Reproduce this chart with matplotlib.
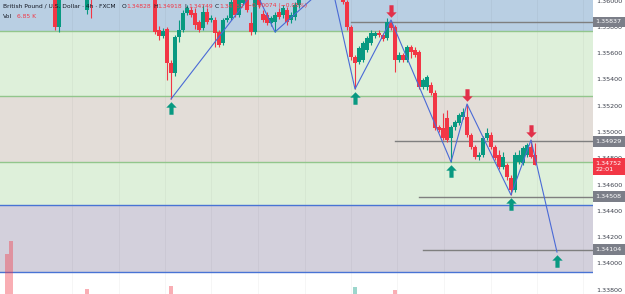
import matplotlib
matplotlib.use("Agg")
import matplotlib.pyplot as plt
import matplotlib.transforms as mtransforms
from matplotlib.path import Path
import numpy as np

# ---------------- data ----------------
bar_index = [13, 14, 21, 22,
             38, 39, 40, 41, 42, 43, 44, 45, 46, 47, 48, 49, 50, 51, 52, 53, 54, 55, 56,
             57, 58, 59, 60, 61, 62, 63, 64, 65, 66, 67, 68, 69, 70, 71, 72, 73, 74,
             85, 86, 87, 88, 89, 90, 91, 92, 93, 94, 95, 96, 97, 98, 99, 100, 101, 102,
             103, 104, 105, 106, 107, 108, 109, 110, 111, 112, 113, 114, 115, 116, 117,
             118, 119, 120, 121, 122, 123, 124, 125, 126, 127, 128, 129, 130, 131, 132, 133]
open_ = [1.36156, 1.35799, 1.35928, 1.36095,
         1.36232, 1.35776, 1.35730, 1.35783, 1.35525, 1.35449, 1.35722, 1.35776, 1.35905, 1.35928,
         1.35905, 1.35837, 1.35791, 1.35913, 1.35852, 1.35852, 1.35761, 1.35677, 1.35852,
         1.35867, 1.36027, 1.35890, 1.35981, 1.36065, 1.35829, 1.35761, 1.36042, 1.35897, 1.35890,
         1.35829, 1.35837, 1.35913, 1.35890, 1.35928, 1.35852, 1.35875, 1.35966,
         1.36194, 1.35989, 1.35799, 1.35570, 1.35532, 1.35548, 1.35624, 1.35677, 1.35730, 1.35753,
         1.35738, 1.35715, 1.35829, 1.35799, 1.35548, 1.35586, 1.35548, 1.35646,
         1.35624, 1.35608, 1.35342, 1.35342, 1.35357, 1.35297, 1.35038, 1.35030, 1.35106, 1.34954,
         1.35038, 1.35068, 1.35114, 1.35114, 1.34977,
         1.34886, 1.34810, 1.34825, 1.34954, 1.34977, 1.34886, 1.34825, 1.34734, 1.34749, 1.34650,
         1.34559, 1.34772, 1.34764, 1.34825, 1.34886, 1.34828]
high = [1.36194, 1.36118, 1.36156, 1.36118,
        1.36270, 1.35806, 1.35791, 1.35799, 1.35548, 1.35738, 1.35852, 1.35928, 1.35966, 1.35951,
        1.35943, 1.35852, 1.35966, 1.35943, 1.35890, 1.35875, 1.35776, 1.35867, 1.35890,
        1.36027, 1.36042, 1.36042, 1.36095, 1.36095, 1.35913, 1.36080, 1.36065, 1.35928, 1.35913,
        1.35882, 1.35913, 1.35943, 1.35966, 1.35951, 1.35913, 1.35989, 1.36118,
        1.36232, 1.36004, 1.35814, 1.35586, 1.35654, 1.35692, 1.35730, 1.35776, 1.35768, 1.35776,
        1.35753, 1.35867, 1.35852, 1.35814, 1.35608, 1.35601, 1.35662, 1.35662,
        1.35646, 1.35624, 1.35411, 1.35433, 1.35380, 1.35319, 1.35053, 1.35144, 1.35167, 1.35053,
        1.35091, 1.35144, 1.35183, 1.35213, 1.34992,
        1.34901, 1.34848, 1.34970, 1.35030, 1.35000, 1.34901, 1.34863, 1.34848, 1.34764, 1.34673,
        1.34848, 1.34863, 1.34894, 1.34916, 1.34939, 1.34918]
low = [1.35776, 1.35761, 1.35897, 1.35867,
       1.35745, 1.35700, 1.35715, 1.35395, 1.35251, 1.35426, 1.35684, 1.35761, 1.35890, 1.35875,
       1.35783, 1.35761, 1.35776, 1.35821, 1.35837, 1.35646, 1.35646, 1.35662, 1.35837,
       1.35852, 1.35875, 1.35875, 1.35966, 1.35913, 1.35738, 1.35745, 1.35943, 1.35837, 1.35814,
       1.35806, 1.35761, 1.35859, 1.35867, 1.35814, 1.35829, 1.35852, 1.35943,
       1.35973, 1.35776, 1.35548, 1.35327, 1.35517, 1.35532, 1.35608, 1.35662, 1.35715, 1.35722,
       1.35692, 1.35700, 1.35776, 1.35456, 1.35532, 1.35532, 1.35532, 1.35563,
       1.35570, 1.35327, 1.35327, 1.35319, 1.35281, 1.35015, 1.35000, 1.34939, 1.34924, 1.34772,
       1.35015, 1.35053, 1.35099, 1.34962, 1.34871,
       1.34795, 1.34787, 1.34810, 1.34939, 1.34871, 1.34787, 1.34719, 1.34719, 1.34635, 1.34521,
       1.34544, 1.34757, 1.34749, 1.34810, 1.34802, 1.34749]
close = [1.35799, 1.36080, 1.36118, 1.36042,
         1.35761, 1.35730, 1.35768, 1.35525, 1.35449, 1.35722, 1.35776, 1.35905, 1.35943, 1.35890,
         1.35814, 1.35776, 1.35913, 1.35837, 1.35867, 1.35753, 1.35662, 1.35852, 1.35867,
         1.35989, 1.35890, 1.36004, 1.36065, 1.35928, 1.35761, 1.36042, 1.35966, 1.35852, 1.35829,
         1.35867, 1.35890, 1.35875, 1.35943, 1.35837, 1.35890, 1.35966, 1.36080,
         1.35989, 1.35799, 1.35570, 1.35525, 1.35639, 1.35677, 1.35715, 1.35753, 1.35753, 1.35738,
         1.35707, 1.35837, 1.35791, 1.35548, 1.35586, 1.35548, 1.35646, 1.35608,
         1.35586, 1.35342, 1.35395, 1.35418, 1.35297, 1.35030, 1.35015, 1.34954, 1.34939, 1.35038,
         1.35076, 1.35129, 1.35152, 1.34977, 1.34886,
         1.34810, 1.34825, 1.34954, 1.34992, 1.34886, 1.34802, 1.34734, 1.34810, 1.34658, 1.34559,
         1.34825, 1.34825, 1.34878, 1.34901, 1.34810, 1.34752]

vol_index = [1, 2, 21, 42, 88, 98]
vol_k = [177.0, 234.0, 22.0, 35.0, 31.0, 18.0]
vol_up = [False, False, False, False, True, False]

zigzag_index = [42, 63, 68, 82, 88, 97, 112, 116, 127, 132, 138.5]
zigzag_price = [1.35251, 1.36080, 1.35761, 1.36141, 1.35327, 1.35852, 1.34772, 1.35213,
                1.34521, 1.34939, 1.34087]
up_arrow_index = [42, 88, 112, 127, 138.5]
up_arrow_price = [1.35251, 1.35327, 1.34772, 1.34521, 1.34087]
down_arrow_index = [97, 116, 132]
down_arrow_price = [1.35852, 1.35213, 1.34939]

zone_edges = [1.33935, 1.34445, 1.34772, 1.35274, 1.35768]
level_price = [1.35837, 1.34929, 1.34508, 1.34104]
level_start = [87, 98, 104, 105]
level_label = ["1.35837", "1.34929", "1.34508", "1.34104"]
tick_prices = [1.338, 1.340, 1.342, 1.344, 1.346, 1.348, 1.350, 1.352, 1.354, 1.356, 1.358, 1.360]
time_grid = [17.25, 28.9, 40.5, 52.1, 63.75, 75.4, 87.0, 98.6, 110.25, 121.9, 133.5, 145.1]
last_price_label = "1.34752"
countdown = "22:01"

# ---------------- figure ----------------
W, H, DPI = 625, 294, 100
fig = plt.figure(figsize=(W / DPI, H / DPI), dpi=DPI, facecolor="white")
ax = fig.add_axes([0, 0, 593 / W, 1])
ax.set_xlim(-0.75, 147.5)
ax.set_ylim(1.33768, 1.36004)
ax.set_facecolor("white")

UP, DOWN = "#089981", "#f23645"

# zones
zone_colors = ["#d3d0dc", "#def0da", "#e3ddd8", "#def0da", "#b9cfe3"]
bounds = zone_edges + [1.37]
for lo, hi, c in zip(bounds[:-1], bounds[1:], zone_colors):
    ax.axhspan(lo, hi, color=c, lw=0, zorder=0)

# faint time grid
for g in time_grid:
    ax.axvline(g, color="#000000", alpha=0.035, lw=0.8, zorder=0.5)

line_cols = ["#4873d4", "#4873d4", "#92c68c", "#92c68c", "#92c68c"]
for p, c in zip(zone_edges, line_cols):
    ax.axhline(p, color=c, lw=1.0, zorder=1)

# support/resistance levels
for p, s in zip(level_price, level_start):
    ax.plot([s, 147.5], [p, p], color="#7f7f7f", lw=1.0, zorder=1)

# volume
ax2 = ax.twinx()
ax2.set_ylim(0, 1300)
ax2.bar(vol_index, vol_k, width=0.85,
        color=[UP if u else DOWN for u in vol_up], alpha=0.4, lw=0, zorder=1)
ax2.set_axis_off()

# candles
o = np.array(open_); c = np.array(close); hi_ = np.array(high); lo_ = np.array(low)
cols = np.where(c >= o, UP, DOWN)
ax.vlines(bar_index, lo_, hi_, colors=cols, lw=0.8, zorder=3)
ax.bar(bar_index, np.maximum(np.abs(c - o), 0.00002), bottom=np.minimum(o, c),
       width=0.8, color=cols, lw=0, zorder=3)

# zigzag
ax.plot(zigzag_index, zigzag_price, color="#4a6ad6", lw=0.8, zorder=4)

# arrows
arrow_up = Path([(0, 0.6), (0.5, 0.08), (0.2, 0.08), (0.2, -0.6), (-0.2, -0.6),
                 (-0.2, 0.08), (-0.5, 0.08), (0, 0.6)],
                [Path.MOVETO] + [Path.LINETO] * 6 + [Path.CLOSEPOLY])
arrow_dn = Path([(x, -y) for x, y in arrow_up.vertices], arrow_up.codes)
tr_up = mtransforms.offset_copy(ax.transData, fig=fig, y=-9, units="dots")
tr_dn = mtransforms.offset_copy(ax.transData, fig=fig, y=9, units="dots")
ax.plot(up_arrow_index, up_arrow_price, ls="none", marker=arrow_up, ms=9,
        color=UP, mec="none", transform=tr_up, zorder=5, clip_on=False)
ax.plot(down_arrow_index, down_arrow_price, ls="none", marker=arrow_dn, ms=9,
        color="#e2304a", mec="none", transform=tr_dn, zorder=5, clip_on=False)

# axes styling
for s in ax.spines.values():
    s.set_visible(False)
ax.set_xticks([])
ax.yaxis.tick_right()
ax.set_yticks(tick_prices)
ax.set_yticklabels([f"{t:.5f}" for t in tick_prices])
ax.tick_params(axis="y", length=0, pad=2.2, labelsize=4.6, labelcolor="#3a3e4a")

# level labels on price scale
blend = mtransforms.blended_transform_factory(ax.transAxes, ax.transData)
for p, s in zip(level_price, level_label):
    ax.text(1.0045, p, s, transform=blend, ha="left", va="center", fontsize=4.6,
            color="white", zorder=6, clip_on=False,
            bbox=dict(boxstyle="square,pad=0.45", fc="#7b7e88", ec="none"))
tr_last = mtransforms.offset_copy(blend, fig=fig, y=4, units="dots")
ax.text(1.0045, close[-1], last_price_label + "\n" + countdown, transform=tr_last,
        ha="left", va="top", fontsize=4.6, color="white", linespacing=1.45, zorder=7,
        clip_on=False, bbox=dict(boxstyle="square,pad=0.45", fc="#f23645", ec="none"))

# header legend
hdr = [(3, "British Pound / U.S. Dollar · 4h · FXCM", "#131722"),
       (122, "O", "#131722"), (126, "1.34828", DOWN),
       (153, "H", "#131722"), (157, "1.34918", DOWN),
       (184, "L", "#131722"), (188, "1.34749", DOWN),
       (215, "C", "#131722"), (219, "1.34752", DOWN),
       (247, "−0.00074 (−0.05%)", DOWN)]
for x, s, col in hdr:
    fig.text(x / W, 1 - 6 / H, s, ha="left", va="center", fontsize=4.3, color=col, zorder=2)
fig.text(3 / W, 1 - 16 / H, "Vol", ha="left", va="center", fontsize=4.3, color="#131722")
fig.text(17 / W, 1 - 16 / H, "6.85 K", ha="left", va="center", fontsize=4.3, color=DOWN)

fig.savefig("out.png", dpi=DPI, facecolor="white")
